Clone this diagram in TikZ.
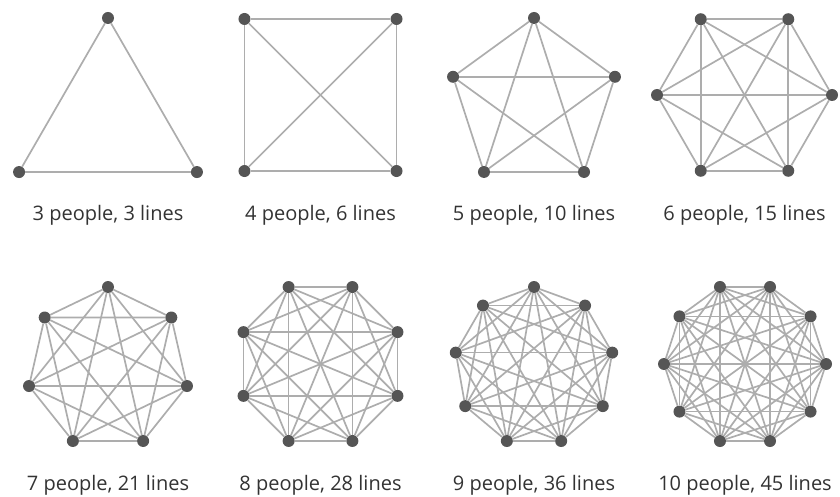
\documentclass[tikz,border=0pt]{standalone}
\usepackage{fontspec}
\setmainfont{Open Sans}
\definecolor{dotgray}{HTML}{555555}
\definecolor{linegray}{HTML}{ADADAD}
\definecolor{textgray}{HTML}{333333}
\begin{document}
\begin{tikzpicture}[x=1pt, y=-1pt,
    person/.style={circle, fill=dotgray, inner sep=0pt, minimum size=12pt},
    link/.style={draw=linegray, line width=1.7pt},
    caption/.style={text=textgray, font=\fontsize{20}{24}\selectfont}]
    \useasboundingbox (0,0) rectangle (840,497);
    % n / centre x / centre y / radius / start angle / lines / caption y
    \foreach \n/\cx/\cy/\rad/\a/\m/\ly in {3/108/120.7/102.7/90/3/215, 4/320.5/95/107.5/45/6/215,
        5/534/103.1/85.1/90/10/215, 6/744.5/95/87.5/0/15/215,
        7/108/368/81/90/21/485, 8/320.5/364/83.3/22.5/28/485,
        9/534/366.4/79.4/90/36/485, 10/745/364/81/0/45/485} {
        \foreach \i in {1,...,\n}
            \node[person] (g\n-\i) at ({\cx+\rad*cos(\a+360*(\i-1)/\n)}, {\cy-\rad*sin(\a+360*(\i-1)/\n)}) {};
        \foreach \i in {2,...,\n} {
            \pgfmathtruncatemacro\prev{\i-1}
            \foreach \j in {1,...,\prev}
                \draw[link] (g\n-\i) -- (g\n-\j);
        }
        \node[caption] (c\n) at (\cx,\ly) {\n\ people, \m\ lines};
    }
\end{tikzpicture}
\end{document}
